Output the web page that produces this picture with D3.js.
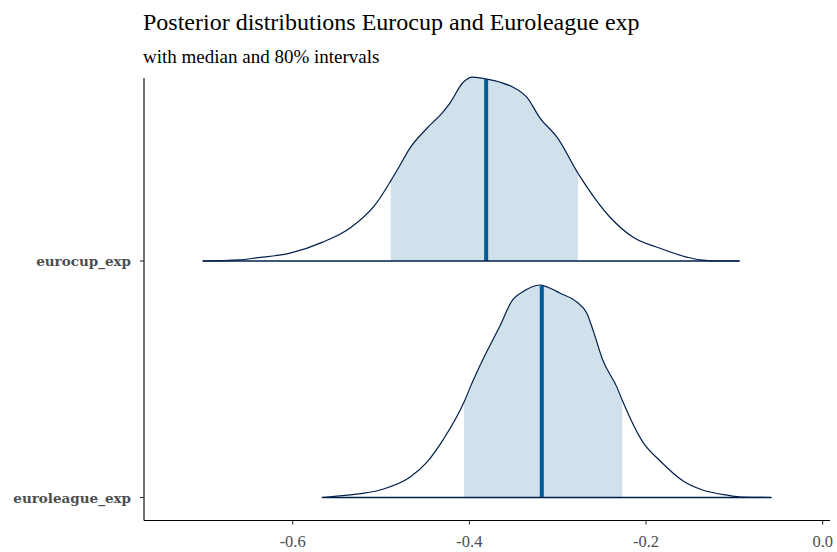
<!DOCTYPE html>
<html><head><meta charset="utf-8">
<script src="https://cdn.jsdelivr.net/npm/d3@7"></script>
<style>body{margin:0;background:#fff}svg{display:block}</style>
</head><body>
<svg id="c" width="837" height="552"></svg>
<script>
const params = ["eurocup_exp", "euroleague_exp"];
const xTicks = [-0.6, -0.4, -0.2, 0.0];
const eurocupX = [-0.702,-0.660,-0.641,-0.603,-0.566,-0.535,-0.505,-0.489,-0.479,-0.468,-0.448,-0.430,-0.422,-0.407,-0.396,-0.380,-0.365,-0.351,-0.335,-0.320,-0.301,-0.275,-0.241,-0.215,-0.185,-0.154,-0.139,-0.113,-0.094];
const eurocupD = [0.00,0.03,0.08,0.20,0.48,0.84,1.48,2.04,2.42,2.85,3.38,3.79,4.02,4.55,4.68,4.63,4.55,4.43,4.17,3.64,3.16,2.16,1.12,0.61,0.33,0.10,0.03,0.00,0.00];
const euroleagueX = [-0.567,-0.538,-0.501,-0.467,-0.448,-0.430,-0.405,-0.399,-0.385,-0.366,-0.351,-0.340,-0.320,-0.312,-0.297,-0.278,-0.267,-0.260,-0.249,-0.233,-0.227,-0.203,-0.184,-0.158,-0.136,-0.108,-0.090,-0.058];
const euroleagueD = [0,0.06,0.19,0.52,0.90,1.46,2.48,2.81,3.50,4.34,5.03,5.23,5.41,5.36,5.20,4.97,4.69,4.26,3.50,2.81,2.48,1.39,0.93,0.42,0.19,0.06,0.01,0];
const medians = [-0.381, -0.318];
const intervalLo = [-0.489, -0.406];
const intervalHi = [-0.277, -0.227];

const series = [
  {name: params[0], xs: eurocupX, ds: eurocupD, med: medians[0], lo: intervalLo[0], hi: intervalHi[0]},
  {name: params[1], xs: euroleagueX, ds: euroleagueD, med: medians[1], lo: intervalLo[1], hi: intervalHi[1]}
];

const svg = d3.select("#c");
const x = d3.scaleLinear().domain([-0.6, 0.0]).range([292.7, 822.7]);
const yBase = d3.scalePoint().domain(params).range([261, 497.5]);
const maxD = d3.max(series, s => d3.max(s.ds));
const h = d3.scaleLinear().domain([0, maxD]).range([0, 212.5]);

const plotLeft = 144, plotRight = 830, plotTop = 78, plotBottom = 520.5;
const curve = d3.curveMonotoneX;

const defs = svg.append("defs");
series.forEach((s, i) => {
  const base = yBase(s.name);
  const pts = s.xs.map((xv, j) => [xv, s.ds[j]]);
  defs.append("clipPath").attr("id", "clip" + i).append("rect")
    .attr("x", x(s.lo)).attr("width", x(s.hi) - x(s.lo))
    .attr("y", 0).attr("height", 552);
  const area = d3.area().curve(curve).x(d => x(d[0])).y0(base).y1(d => base - h(d[1]));
  const line = d3.line().curve(curve).x(d => x(d[0])).y(d => base - h(d[1]));
  svg.append("path").datum(pts).attr("d", area)
    .attr("fill", "#d1e1ec").attr("clip-path", `url(#clip${i})`);
  const bis = d3.bisector(d => d[0]).left;
  const k = bis(pts, s.med);
  const a = pts[k - 1], b = pts[k];
  const dm = a[1] + (b[1] - a[1]) * (s.med - a[0]) / (b[0] - a[0]);
  svg.append("line").attr("x1", x(s.med)).attr("x2", x(s.med))
    .attr("y1", base).attr("y2", base - h(dm))
    .attr("stroke", "#005b96").attr("stroke-width", 4);
  svg.append("line").attr("x1", x(s.xs[0])).attr("x2", x(s.xs[s.xs.length - 1]))
    .attr("y1", base).attr("y2", base)
    .attr("stroke", "#011f4b").attr("stroke-width", 1.3);
  svg.append("path").datum(pts).attr("d", line)
    .attr("fill", "none").attr("stroke", "#011f4b").attr("stroke-width", 1.2);
});

const gx = svg.append("g").attr("transform", `translate(0,${plotBottom})`);
gx.append("line").attr("x1", plotLeft).attr("x2", plotRight).attr("y1", 0).attr("y2", 0)
  .attr("stroke", "#000").attr("stroke-width", 1.1);
xTicks.forEach(t => {
  gx.append("line").attr("x1", x(t)).attr("x2", x(t)).attr("y1", 0).attr("y2", 4)
    .attr("stroke", "#333").attr("stroke-width", 1.1);
  gx.append("text").attr("x", x(t)).attr("y", 26.5).attr("text-anchor", "middle")
    .attr("font-family", "Liberation Serif").attr("font-size", 16.5).attr("fill", "#4d4d4d")
    .text(d3.format(".1f")(t).replace("\u2212", "-"));
});
const gy = svg.append("g");
gy.append("line").attr("x1", plotLeft).attr("x2", plotLeft).attr("y1", plotTop).attr("y2", plotBottom)
  .attr("stroke", "#000").attr("stroke-width", 1.1);
params.forEach(p => {
  gy.append("line").attr("x1", plotLeft - 4).attr("x2", plotLeft).attr("y1", yBase(p)).attr("y2", yBase(p))
    .attr("stroke", "#333").attr("stroke-width", 1.1);
  gy.append("text").attr("x", 131).attr("y", yBase(p) + 5).attr("text-anchor", "end")
    .attr("font-family", "DejaVu Serif").attr("font-weight", "bold").attr("font-size", 13.5)
    .attr("fill", "#4d4d4d").text(p);
});

svg.append("text").attr("x", 143).attr("y", 29.5).attr("font-family", "Liberation Serif")
  .attr("font-size", 24).attr("fill", "#000").text("Posterior distributions Eurocup and Euroleague exp");
svg.append("text").attr("x", 143).attr("y", 63).attr("font-family", "Liberation Serif")
  .attr("font-size", 19).attr("fill", "#000").text("with median and 80% intervals");
</script>
</body></html>
